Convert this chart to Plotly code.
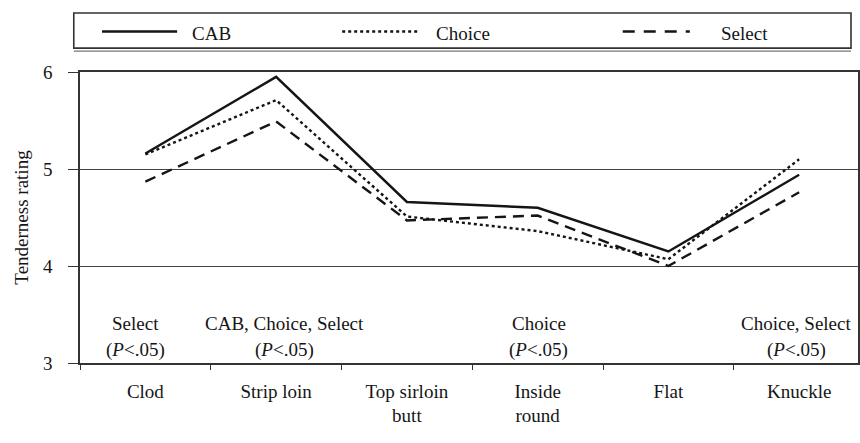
import plotly.graph_objects as go

cuts = ["Clod", "Strip loin", "Top sirloin<br>butt", "Inside<br>round", "Flat", "Knuckle"]
cab = [5.16, 5.95, 4.66, 4.60, 4.15, 4.94]
choice = [5.15, 5.71, 4.51, 4.36, 4.07, 5.10]
select = [4.87, 5.49, 4.47, 4.52, 4.00, 4.76]
series_names = ["CAB", "Choice", "Select"]
y_ticks = [3, 4, 5, 6]

sig_cuts = ["Clod", "Strip loin", "Inside<br>round", "Knuckle"]
sig_labels = ["Select", "CAB, Choice, Select", "Choice", "Choice, Select"]
sig_shift = [-10, 8, 1, -3]

FONT = "Liberation Serif"
INK = "#151515"
FS = 19

fig = go.Figure()
styles = [dict(dash="solid", width=2.4), dict(dash="dot", width=2.4), dict(dash="11px,7px", width=2.4)]
for name, vals, st in zip(series_names, [cab, choice, select], styles):
    fig.add_trace(go.Scatter(x=cuts, y=vals, mode="lines", name=name,
                             line=dict(color=INK, width=st["width"], dash=st["dash"])))

for c, lab, sh in zip(sig_cuts, sig_labels, sig_shift):
    fig.add_annotation(x=c, y=3.412, text=lab, showarrow=False, xshift=sh,
                       font=dict(family=FONT, size=FS, color=INK))
    fig.add_annotation(x=c, y=3.134, text="(<i>P</i>&lt;.05)", showarrow=False, xshift=sh,
                       font=dict(family=FONT, size=FS, color=INK))

# legend box (drawn manually)
fig.add_shape(type="rect", xref="paper", yref="paper", x0=-0.008, x1=0.991, y0=1.082, y1=1.203,
              line=dict(color="#333", width=1.6), fillcolor="white", layer="above")
fig.add_shape(type="line", xref="paper", yref="paper", x0=-0.008, x1=0.991, y0=1.072, y1=1.072,
              line=dict(color="#777", width=1.2), layer="above")
legend_x = [(0.0283, 0.1248), (0.337, 0.434), (0.6976, 0.7838)]
legend_dash = ["solid", "dot", "12px,9px"]
text_x = [0.142, 0.455, 0.821]
for (x0, x1), tx, name, dsh in zip(legend_x, text_x, series_names, legend_dash):
    fig.add_shape(type="line", xref="paper", yref="paper", x0=x0, x1=x1, y0=1.139, y1=1.139,
                  line=dict(color=INK, width=2.4, dash=dsh), layer="above")
    fig.add_annotation(xref="paper", yref="paper", x=tx, y=1.131, text=name, showarrow=False,
                       xanchor="left", yanchor="middle", font=dict(family=FONT, size=FS, color=INK))

fig.update_layout(
    width=860, height=443,
    margin=dict(l=80, r=2, t=72, b=80),
    paper_bgcolor="white", plot_bgcolor="white",
    showlegend=False,
    font=dict(family=FONT, size=FS, color=INK),
)
fig.update_xaxes(type="category", range=[-0.5, 5.45], tickson="boundaries", ticks="outside", ticklen=5,
                 tickcolor="#333", showline=True, linecolor="#333", linewidth=1.6, mirror=True,
                 showgrid=False, ticklabelstandoff=10, automargin=False,
                 tickfont=dict(family=FONT, size=FS, color=INK))
fig.update_yaxes(range=[3, 6], tickvals=y_ticks, ticks="outside", ticklen=10, tickcolor="#333",
                 showline=True, linecolor="#333", linewidth=1.6, mirror=True,
                 showgrid=True, gridcolor="#444", gridwidth=1.2, zeroline=False, automargin=False,
                 ticklabelstandoff=12, tickfont=dict(family=FONT, size=FS, color=INK),
                 title=dict(text="Tenderness rating", font=dict(family=FONT, size=19, color=INK), standoff=9))

fig.write_html("out.html", config={"displayModeBar": False},
               post_script="document.body.style.margin='0';document.body.style.overflow='hidden';")
